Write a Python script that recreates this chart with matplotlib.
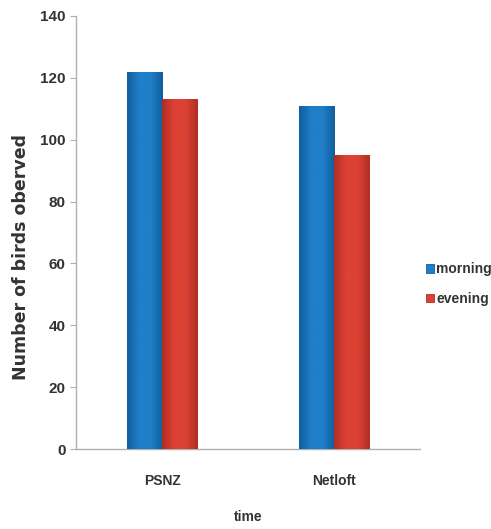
import matplotlib
matplotlib.use("Agg")
import matplotlib.pyplot as plt
import numpy as np
from matplotlib.colors import LinearSegmentedColormap

# Bird counts by site and time of day
sites = ["PSNZ", "Netloft"]
series_names = ["morning", "evening"]
morning = [122, 111]
evening = [113, 95]

colors = {"morning": ("#125d9c", "#1f7fc8"), "evening": ("#b02e24", "#dc4233")}

fig = plt.figure(figsize=(4.91, 5.29), dpi=100)
ax = fig.add_axes([0.1548, 0.1512, 0.7006, 0.8186])

x = np.arange(len(sites))
width = 0.205

def shaded_bars(xpos, values, name):
    dark, light = colors[name]
    bars = ax.bar(xpos, values, width, color=light, edgecolor=dark,
                  linewidth=0.6, label=name, zorder=2)
    cmap = LinearSegmentedColormap.from_list(name, [dark, light, light, dark])
    grad = np.linspace(0, 1, 64).reshape(1, -1)
    for b in bars:
        x0, y0 = b.get_x(), b.get_y()
        w, h = b.get_width(), b.get_height()
        im = ax.imshow(grad, cmap=cmap, aspect="auto",
                       extent=(x0, x0 + w, y0, y0 + h), zorder=3,
                       interpolation="bicubic")
        im.set_clip_path(b)
    return bars

shaded_bars(x - width / 2, morning, "morning")
shaded_bars(x + width / 2, evening, "evening")

ax.set_xlim(-0.5, 1.5)
ax.set_ylim(0, 140)
ax.set_yticks(np.arange(0, 141, 20))
ax.set_xticks(x)
ax.set_xticklabels(sites)

for s in ("top", "right"):
    ax.spines[s].set_visible(False)
for s in ("left", "bottom"):
    ax.spines[s].set_color("#b0b0b0")
    ax.spines[s].set_linewidth(1.0)

narrow = ["Liberation Sans", "DejaVu Sans"]
ax.tick_params(axis="y", length=4, color="#b0b0b0", pad=3.5, labelsize=11, labelcolor="#333333")
ax.tick_params(axis="x", length=0, pad=18, labelsize=10, labelcolor="#333333")
for lbl in ax.get_yticklabels() + ax.get_xticklabels():
    lbl.set_fontfamily(narrow)
    lbl.set_fontweight("bold")

ax.set_xlabel("time", fontsize=10, fontweight="bold", color="#333333",
              family=narrow, labelpad=16)
fig.text(0.043, 0.514, "Number of birds oberved", rotation=90, ha="center", va="center",
         fontsize=12.5, fontweight="bold", color="#333333")

leg = fig.legend(loc="center left", bbox_to_anchor=(0.862, 0.463), frameon=False,
                 handlelength=0.55, handleheight=0.55, handletextpad=0.2, labelspacing=1.1,
                 borderpad=0.2, borderaxespad=0.0,
                 prop=dict(family=narrow, weight="bold", size=10))
for t in leg.get_texts():
    t.set_color("#333333")

fig.savefig("out.png", dpi=100)
